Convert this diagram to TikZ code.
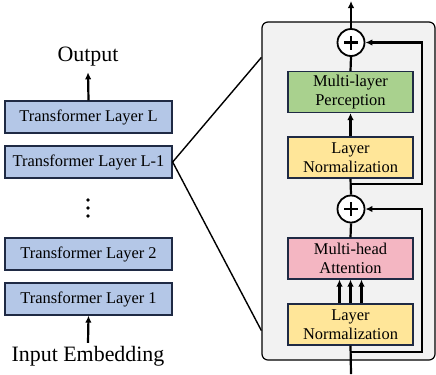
\documentclass[tikz,border=0pt]{standalone}
\usepackage{fontspec}
\setmainfont{Liberation Serif}
\usetikzlibrary{arrows.meta}
\definecolor{layblue}{HTML}{B4C7E7}
\definecolor{mlpgreen}{HTML}{A9D18E}
\definecolor{normyellow}{HTML}{FFE699}
\definecolor{attpink}{HTML}{F4B6C2}
\definecolor{panelgray}{HTML}{F2F2F2}
\definecolor{boxline}{HTML}{1F2A44}

\begin{document}
\begin{tikzpicture}[x=1bp,y=-1bp]
\tikzstyle{every node}+=[inner sep=0pt]
\tikzstyle{laybox}=[draw=boxline, line width=1.3bp, fill=layblue, minimum width=167bp, minimum height=32bp, font=\fontsize{16.5}{19}\selectfont]
\tikzstyle{blkbox}=[draw=boxline, line width=1.1bp, minimum width=125bp, minimum height=41bp, align=center, font=\fontsize{16.5}{19}\selectfont]
\tikzstyle{sumnode}=[draw=black, circle, line width=1.8bp, fill=white, minimum size=27bp]
\tikzstyle{flow}=[line width=2.2bp]
\tikzstyle{arr}=[-{Latex[length=7bp,width=6.5bp]}]
\useasboundingbox (0,0) rectangle (436,374);
% left stack of layers
\node [laybox] (layL) at (88.5,117) {Transformer Layer L};
\node [laybox] (layL1) at (88.5,162) {Transformer Layer L-1};
\node [laybox] (lay2) at (88.5,254) {Transformer Layer 2};
\node [laybox] (lay1) at (88.5,299) {Transformer Layer 1};
\node [font=\fontsize{22}{24}\selectfont] (out) at (88,56.5) {Output};
\node [font=\fontsize{22}{24}\selectfont] (inp) at (88,356) {Input Embedding};
\fill (88,200) circle (1.8) (88,208) circle (1.8) (88,216) circle (1.8);
\draw [flow, arr] (layL.north) -- ([yshift=-6bp]out.south);
\draw [flow, arr] ([yshift=3bp]inp.north) -- (lay1.south);
% zoomed layer
\node [draw=black, line width=1.2bp, rounded corners=6bp, fill=panelgray, minimum width=173bp, minimum height=338bp] (blk) at (348.5,191) {};
\draw [line width=1.4bp] ([yshift=-36bp]blk.north west) -- (layL1.east) -- ([yshift=30bp]blk.south west);
\node [sumnode] (sum2) at (351,42.5) {};
\node [blkbox, fill=mlpgreen] (mlp) at (350.5,92) {Multi-layer\\Perception};
\node [blkbox, fill=normyellow] (norm2) at (350.5,157.5) {Layer\\Normalization};
\node [sumnode] (sum1) at (351,209) {};
\node [blkbox, fill=attpink] (att) at (350.5,258.5) {Multi-head\\Attention};
\node [blkbox, fill=normyellow] (norm1) at (350.5,324.5) {Layer\\Normalization};
\foreach \s in {sum1,sum2} {
  \draw [flow] ([xshift=-7bp]\s.center) -- ([xshift=7bp]\s.center);
  \draw [flow] ([yshift=-7bp]\s.center) -- ([yshift=7bp]\s.center);
}
\coordinate (in) at (351,374);
\coordinate (top) at (351,1);
\coordinate (br1) at (351,352);
\coordinate (br2) at (351,184);
\draw [flow] (in) -- (norm1.south);
\foreach \dx in {-11,0,11}
  \draw [flow, arr] ([xshift=\dx bp]norm1.north) -- ([xshift=\dx bp]att.south);
\draw [flow] (att.north) -- (sum1.south);
\draw [flow] (sum1.north) -- (norm2.south);
\draw [flow, arr] (norm2.north) -- (mlp.south);
\draw [flow] (mlp.north) -- (sum2.south);
\draw [flow, arr] (sum2.north) -- (top);
\draw [flow, arr] (br1) -- ++(71,0) |- (sum1.east);
\draw [flow, arr] (br2) -- ++(71,0) |- (sum2.east);
\end{tikzpicture}
\end{document}
